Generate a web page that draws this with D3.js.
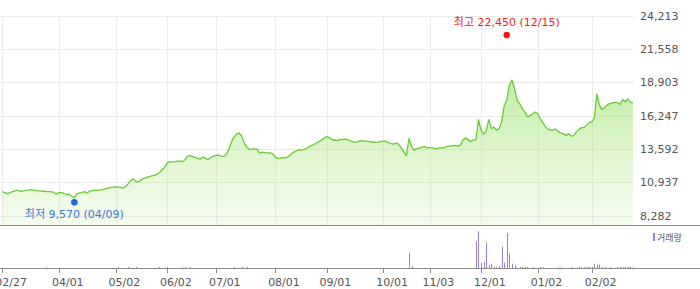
<!DOCTYPE html>
<html>
<head>
<meta charset="utf-8">
<script src="https://cdn.jsdelivr.net/npm/d3@7"></script>
<style>
html, body { margin: 0; padding: 0; background: #fff; }
svg { display: block; font-family: "DejaVu Sans", "Noto Sans CJK KR", sans-serif; }
</style>
</head>
<body>
<svg id="chart" width="700" height="289"></svg>
<script>
// daily closes, one per trading day
const closes = [
  10190,10110,10030,10110,10180,10240,10300,10220,10240,10270,
  10310,10350,10300,10270,10250,10230,10220,10200,10190,10170,
  10140,9980,10110,10110,10040,9950,9980,9820,9710,10010,
  10070,10110,10190,10080,10230,10260,10290,10310,10320,10350,
  10410,10470,10510,10540,10560,10540,10510,10470,10620,10830,
  11110,11210,10970,10980,11150,11240,11300,11390,11440,11480,
  11550,11700,11910,12100,12460,12560,12560,12590,12630,12620,
  12580,12740,13020,13070,12980,12900,12820,12780,12970,12840,
  12740,12910,13020,13080,13100,13030,13000,13150,13540,14140,
  14540,14780,14870,14620,14060,13740,13550,13580,13600,13580,
  13260,13340,13300,13280,13280,13220,12960,12830,12860,12910,
  12890,12970,13140,13320,13420,13520,13510,13540,13630,13740,
  13860,13950,14070,14180,14310,14440,14590,14500,14350,14310,
  14270,14340,14360,14380,14360,14270,14180,14130,14190,14240,
  14230,14220,14200,14170,14150,14120,14140,14190,14220,14220,
  14110,14020,13980,14070,13960,13700,13340,13070,14420,13780,
  13500,13600,13670,13750,13780,13710,13710,13690,13630,13630,
  13700,13670,13740,13800,13830,13860,13870,13820,13900,14340,
  14460,14340,14180,14300,14340,15940,15100,14780,15020,15940,
  15220,15340,15100,15220,15740,17060,17500,18700,19100,18460,
  17500,17220,16860,16540,16180,16260,16380,16540,16420,16020,
  15700,15380,15180,15110,15100,15190,14980,14860,14820,14660,
  14820,14630,14660,14940,15140,15300,15310,15500,15700,15760,
  16060,17980,17100,16740,16900,17100,17220,17280,17310,17300,
  17150,17540,17360,17580,17340,17280
];

// x axis labels and the trading-day index they sit on
const tickLabels = ['02/27','04/01','05/02','06/02','07/01','08/01','09/01','10/01','11/03','12/01','01/02','02/02'];
const tickIndex  = [0, 22, 44, 64, 83, 106, 126, 148, 166, 186, 208, 229];

const yTicks = [8282, 10937, 13592, 16247, 18903, 21558, 24213];

// volume (sparse: day index -> amount, relative units)
const volIndex  = [17,45,49,52,61,64,70,71,73,90,93,95,158,159,
  184,185,186,187,188,189,190,191,192,193,194,195,196,197,198,199,
  201,202,203,204,206,209,210,216,217,221,224,225,226,227,228,229,
  230,231,232,233,234,236,239,240,241,242,243,244,245];
const volAmount = [10,10,10,10,10,10,10,10,10,10,10,10,153,20,
  267,367,53,63,253,30,43,10,10,20,213,53,353,143,43,30,
  10,10,10,10,10,10,10,10,10,10,10,10,10,10,10,10,
  43,33,33,10,10,10,10,10,10,10,10,10,10];

const highIdx = 196, highVal = 22450, highText = '최고 22,450 (12/15)';
const lowIdx = 28, lowVal = 9570, lowText = '최저 9,570 (04/09)';

const W = 700, plotRight = 634, priceTop = 16, priceBottom = 225;
const volTop = 226, volBase = 268;

const svg = d3.select('#chart');
const fmt = d3.format(',');

const x = d3.scaleLinear().domain([0, closes.length - 1]).range([2.3, 632.9]);
const y = d3.scaleLinear().domain([yTicks[0], yTicks[yTicks.length - 1]]).range([215.5, priceTop]);
const yv = d3.scaleLinear().domain([0, 400]).range([volBase, volBase - 40]);

// gradient for the area
const grad = svg.append('defs').append('linearGradient')
  .attr('id', 'areaFill').attr('x1', 0).attr('y1', 0).attr('x2', 0).attr('y2', 1);
grad.append('stop').attr('offset', '0%').attr('stop-color', '#8fdc5a').attr('stop-opacity', 0.55);
grad.append('stop').attr('offset', '100%').attr('stop-color', '#b6ec90').attr('stop-opacity', 0.15);

// grid
const grid = svg.append('g').attr('stroke', '#ebebeb').attr('stroke-width', 1);
grid.selectAll('line.h').data(yTicks).enter().append('line')
  .attr('x1', 0).attr('x2', plotRight)
  .attr('y1', d => Math.round(y(d)) + 0.5).attr('y2', d => Math.round(y(d)) + 0.5);
grid.selectAll('line.v').data(tickIndex).enter().append('line')
  .attr('x1', d => Math.round(x(d)) + 0.5).attr('x2', d => Math.round(x(d)) + 0.5)
  .attr('y1', priceTop).attr('y2', priceBottom);

// area + line
const area = d3.area().x((d, i) => x(i)).y0(priceBottom).y1(d => y(d));
const line = d3.line().x((d, i) => x(i)).y(d => y(d));
svg.append('path').datum(closes).attr('d', area).attr('fill', 'url(#areaFill)');
svg.append('path').datum(closes).attr('d', line)
  .attr('fill', 'none').attr('stroke', '#66cc33').attr('stroke-width', 1.3).attr('stroke-linejoin', 'round');

// y labels
svg.append('g').selectAll('text').data(yTicks).enter().append('text')
  .attr('x', 640).attr('y', d => y(d) + 4)
  .attr('font-size', 11).attr('fill', '#555')
  .text(d => fmt(d));

// panel borders
svg.append('line').attr('x1', 0).attr('x2', W).attr('y1', priceBottom + 0.5).attr('y2', priceBottom + 0.5)
  .attr('stroke', '#8c8c8c');

// volume bars
const vols = volIndex.map((d, i) => ({ idx: d, v: volAmount[i] }));
svg.append('g').selectAll('rect').data(vols).enter().append('rect')
  .attr('x', d => Math.round(x(d.idx)))
  .attr('width', 1)
  .attr('y', d => yv(d.v))
  .attr('height', d => volBase - yv(d.v))
  .attr('fill', '#9b80cc');

svg.append('line').attr('x1', 0).attr('x2', W).attr('y1', volBase + 0.5).attr('y2', volBase + 0.5)
  .attr('stroke', '#8c8c8c');

// x ticks + labels
const xt = svg.append('g');
xt.selectAll('line').data(tickIndex).enter().append('line')
  .attr('x1', d => Math.round(x(d)) + 0.5).attr('x2', d => Math.round(x(d)) + 0.5)
  .attr('y1', volBase).attr('y2', volBase + 5)
  .attr('stroke', '#8c8c8c');
xt.selectAll('text').data(tickIndex).enter().append('text')
  .attr('x', d => x(d) - 7).attr('y', 286)
  .attr('font-size', 11).attr('fill', '#555')
  .text((d, i) => tickLabels[i]);

// volume legend
svg.append('rect').attr('x', 653).attr('y', 233).attr('width', 2).attr('height', 8).attr('fill', '#9b80cc');
svg.append('text').attr('x', 657).attr('y', 240.5).attr('font-size', 9).attr('fill', '#555').text('거래량');

// high / low markers
svg.append('circle').attr('cx', x(highIdx)).attr('cy', y(highVal) - 3).attr('r', 3.3).attr('fill', '#ff1111');
svg.append('text').attr('x', x(highIdx)).attr('y', y(highVal) - 12)
  .attr('text-anchor', 'middle').attr('font-size', 11).attr('fill', '#ee2222').text(highText);

svg.append('circle').attr('cx', x(lowIdx)).attr('cy', y(lowVal) + 3).attr('r', 3.3).attr('fill', '#1e6be0');
svg.append('text').attr('x', x(lowIdx)).attr('y', y(lowVal) + 19)
  .attr('text-anchor', 'middle').attr('font-size', 11).attr('fill', '#3a77d6').text(lowText);
</script>
</body>
</html>
